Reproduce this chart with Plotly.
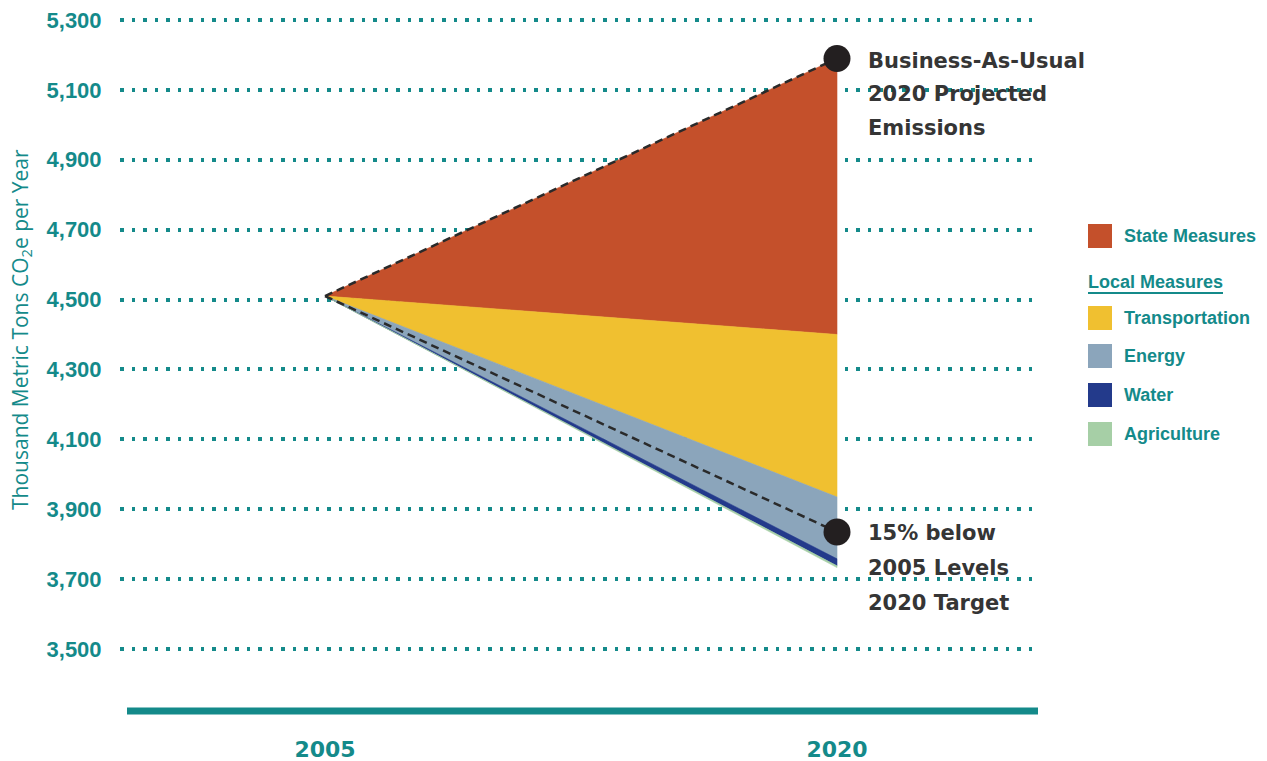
import plotly.graph_objects as go

# ---------------- data ----------------
years = [2005, 2020]
level_2005 = 4510
bau_2020 = 5190
target_2020 = 3835
wedge_names = ["State Measures", "Transportation", "Energy", "Water", "Agriculture"]
wedge_tops_2020 = [5190, 4400, 3935, 3758, 3738]
wedge_bottoms_2020 = [4400, 3935, 3758, 3738, 3733]
y_ticks = [3500, 3700, 3900, 4100, 4300, 4500, 4700, 4900, 5100, 5300]
y_tick_labels = ["3,500", "3,700", "3,900", "4,100", "4,300", "4,500", "4,700", "4,900", "5,100", "5,300"]
x_tick_labels = ["2005", "2020"]
bau_label = ["Business-As-Usual", "2020 Projected", "Emissions"]
target_label = ["15% below", "2005 Levels", "2020 Target"]

# ---------------- styles ----------------
colors = {
    "State Measures": "#c4502b",
    "Transportation": "#f0c030",
    "Energy": "#8ba5bb",
    "Water": "#233a8b",
    "Agriculture": "#a6cfa6",
}
TEAL = "#148a8a"
TEXT_DARK = "#353535"
W, H = 1267, 761
L, R, T, B = 120, 1040, 10, 712  # plot area in pixels


def X(px):
    return (px - L) / (R - L)


def Y(py):
    return (B - py) / (B - T)


fig = go.Figure()

# wedges
for name, top, bot in zip(wedge_names, wedge_tops_2020, wedge_bottoms_2020):
    fig.add_trace(go.Scatter(
        x=[years[0], years[1], years[1], years[0]],
        y=[level_2005, top, bot, level_2005],
        fill="toself", mode="lines",
        fillcolor=colors[name],
        line=dict(width=0.6, color=colors[name]),
        name=name, showlegend=False, hoverinfo="name",
    ))

# dashed BAU and target lines
for end in [bau_2020, target_2020]:
    fig.add_trace(go.Scatter(
        x=years, y=[level_2005, end], mode="lines",
        line=dict(color="#2a2a2a", width=2.5, dash="8px,5px"),
        showlegend=False, hoverinfo="skip",
    ))

# end-point dots
fig.add_trace(go.Scatter(
    x=[years[1], years[1]], y=[bau_2020, target_2020], mode="markers",
    marker=dict(size=27, color="#231f20"),
    showlegend=False, hoverinfo="skip",
))

# x pixel mapping: 2005 -> 325px, 2020 -> 837px
ppy = (837 - 325) / (years[1] - years[0])
x0 = years[0] - (325 - L) / ppy
x1 = years[1] + (R - 837) / ppy
# y pixel mapping: 5300 -> 20px, 3500 -> 649px
ppu = (649 - 20) / 1800
ymax = 5300 + (20 - T) / ppu
ymin = 3500 - (B - 649) / ppu

fig.update_xaxes(
    range=[x0, x1], showgrid=False, zeroline=False, showline=False,
    automargin=False,
    tickvals=years, ticktext=x_tick_labels,
    ticks="outside", ticklen=18, tickcolor="rgba(0,0,0,0)",
    tickfont=dict(family="DejaVu Sans", size=22, color=TEAL, weight="bold"),
    fixedrange=True,
)
fig.update_yaxes(
    range=[ymin, ymax], showgrid=True, gridcolor=TEAL, gridwidth=3.5,
    griddash="3.5px,8px", zeroline=False, showline=False,
    automargin=False,
    tickvals=y_ticks, ticktext=y_tick_labels,
    ticks="outside", ticklen=13, tickcolor="rgba(0,0,0,0)",
    tickfont=dict(family="Liberation Sans", size=22, color=TEAL, weight="bold"),
    fixedrange=True,
)

shapes = []
# bottom baseline
shapes.append(dict(type="line", xref="paper", yref="paper",
                   x0=X(127), x1=X(1038), y0=Y(711), y1=Y(711),
                   line=dict(color=TEAL, width=7)))

annotations = []
# y-axis title
annotations.append(dict(
    xref="paper", yref="paper", x=X(21), y=Y(330), showarrow=False,
    text="Thousand Metric Tons CO<sub>2</sub>e per Year", textangle=-90,
    font=dict(family="Open Sans", size=21, color=TEAL),
    xanchor="center", yanchor="middle",
))

# callout labels
for i, line in enumerate(bau_label):
    annotations.append(dict(
        xref="paper", yref="paper", x=X(866), y=Y(61 + 33.5 * i), showarrow=False,
        text=line, xanchor="left", yanchor="middle",
        font=dict(family="DejaVu Sans", size=21, color=TEXT_DARK, weight="bold"),
    ))
for i, line in enumerate(target_label):
    annotations.append(dict(
        xref="paper", yref="paper", x=X(866), y=Y(533 + 35 * i), showarrow=False,
        text=line, xanchor="left", yanchor="middle",
        font=dict(family="DejaVu Sans", size=21, color=TEXT_DARK, weight="bold"),
    ))

# custom legend
legend_rows = [("State Measures", 236), ("Transportation", 318), ("Energy", 356),
               ("Water", 395), ("Agriculture", 434)]
for name, cy in legend_rows:
    shapes.append(dict(type="rect", xref="paper", yref="paper",
                       x0=X(1088), x1=X(1112), y0=Y(cy - 12), y1=Y(cy + 12),
                       fillcolor=colors[name], line=dict(width=0)))
    annotations.append(dict(
        xref="paper", yref="paper", x=X(1122), y=Y(cy), showarrow=False,
        text=name, xanchor="left", yanchor="middle",
        font=dict(family="Liberation Sans", size=18, color=TEAL, weight="bold"),
    ))
annotations.append(dict(
    xref="paper", yref="paper", x=X(1086), y=Y(282), showarrow=False,
    text="Local Measures", xanchor="left", yanchor="middle",
    font=dict(family="Liberation Sans", size=18, color=TEAL, weight="bold"),
))
shapes.append(dict(type="line", xref="paper", yref="paper",
                   x0=X(1088), x1=X(1223), y0=Y(293), y1=Y(293),
                   line=dict(color=TEAL, width=2)))

fig.update_layout(
    width=W, height=H, autosize=False,
    margin=dict(l=L, r=W - R, t=T, b=H - B, pad=0, autoexpand=False),
    paper_bgcolor="white", plot_bgcolor="white",
    showlegend=False,
    shapes=shapes, annotations=annotations,
)

fig.write_html(
    "out.html",
    config={"displayModeBar": False},
    post_script="document.body.style.margin='0';document.body.style.padding='0';"
                "document.documentElement.style.overflow='hidden';",
)
